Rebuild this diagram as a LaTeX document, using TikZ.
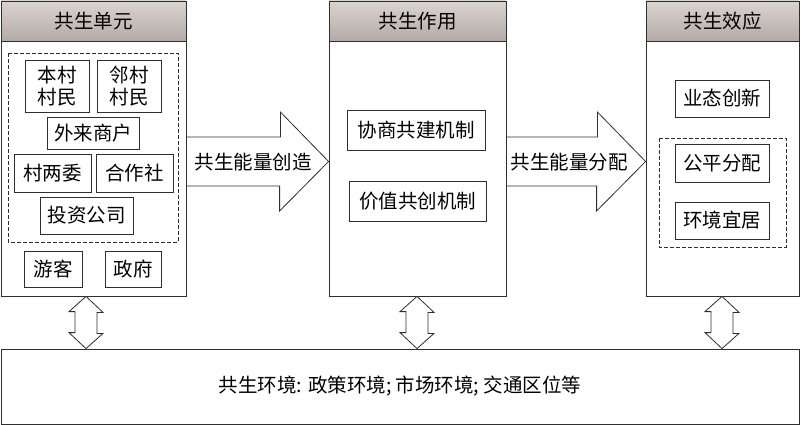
\documentclass[tikz,border=0pt]{standalone}
\usepackage{fontspec}
\setmainfont{Noto Sans CJK SC}
\usetikzlibrary{positioning,calc}
\definecolor{HeadTop}{HTML}{DAD4D1}
\definecolor{HeadBot}{HTML}{B4AAA5}
\definecolor{LineGray}{HTML}{2E2E2E}

\begin{document}
\begin{tikzpicture}[
    x=1pt,y=-1pt,
    every node/.style={font=\fontsize{19.5}{22}\selectfont},
    col/.style={draw=LineGray,line width=0.8pt,fill=white,inner sep=0pt},
    head/.style={draw=LineGray,line width=0.8pt,top color=HeadTop,bottom color=HeadBot,minimum height=40pt,inner sep=0pt},
    item/.style={draw=LineGray,line width=0.8pt,fill=white,inner sep=0pt,align=center},
    group/.style={draw=LineGray,line width=0.7pt,dash pattern=on 4pt off 2pt},
    fat/.style={draw=LineGray,line width=0.8pt,fill=white}
  ]
    \useasboundingbox (0,0) rectangle (800,425);

    % three columns
    \node[col,minimum width=185pt,minimum height=295pt] (unit) at (93.5,148.5) {};
    \node[head,minimum width=185pt,anchor=north] (unithead) at (unit.north) {共生单元};
    \node[col,minimum width=177pt,minimum height=295pt] (role) at (417.5,148.5) {};
    \node[head,minimum width=177pt,anchor=north] (rolehead) at (role.north) {共生作用};
    \node[col,minimum width=153pt,minimum height=295pt] (effect) at (722.5,148.5) {};
    \node[head,minimum width=153pt,anchor=north] (effecthead) at (effect.north) {共生效应};

    % environment
    \node[col,minimum width=798pt,minimum height=75pt] (env) at (400,386.5) {共生环境: 政策环境; 市场环境; 交通区位等};

    % units
    \draw[group] (8,53) rectangle (178,242);
    \node[item,minimum width=64pt,minimum height=52pt] (home) at (57,86) {本村\\村民};
    \node[item,minimum width=64pt,minimum height=52pt] (near) at (129,86) {邻村\\村民};
    \node[item,minimum width=92pt,minimum height=32pt] (merch) at (93,133) {外来商户};
    \node[item,minimum width=77pt,minimum height=38pt] (cmte) at (52.5,173) {村两委};
    \node[item,minimum width=77pt,minimum height=38pt] (coop) at (134.5,173) {合作社};
    \node[item,minimum width=93pt,minimum height=37pt] (invest) at (86.5,215.5) {投资公司};
    \node[item,minimum width=58pt,minimum height=36pt] (tour) at (53,269) {游客};
    \node[item,minimum width=56pt,minimum height=36pt] (gov) at (133,269) {政府};

    % mechanisms
    \node[item,minimum width=138pt,minimum height=40pt] (consult) at (416,130) {协商共建机制};
    \node[item,minimum width=137pt,minimum height=40pt] (cocreate) at (417.5,201) {价值共创机制};

    % effects
    \draw[group] (659,138) rectangle (786,247);
    \node[item,minimum width=94pt,minimum height=37pt] (newbiz) at (722,98.5) {业态创新};
    \node[item,minimum width=94pt,minimum height=38pt] (fair) at (722,163) {公平分配};
    \node[item,minimum width=94pt,minimum height=37pt] (livable) at (722,220.5) {环境宜居};

    % energy flow
    \draw[fat] (unit.east |- 0,137) -- ++(94,0) -- ++(0,-25) -- (role.west |- 0,161.5)
      -- ++(-49,49.5) -- ++(0,-25) -- (unit.east |- 0,186) -- cycle;
    \draw[fat] (role.east |- 0,137) -- ++(91,0) -- ++(0,-25) -- (effect.west |- 0,161.5)
      -- ++(-49,49.5) -- ++(0,-25) -- (role.east |- 0,186) -- cycle;
    \node (create) at (253,162) {共生能量创造};
    \node (share) at (569,162) {共生能量分配};

    % links to environment
    \foreach \nm/\x in {unit/86,role/417,effect/722}
      \draw[fat] (\nm.south -| \x,0) -- ++(17,16) -- ++(-6,0) -- ++(0,21) -- ++(6,0)
        -- (env.north -| \x,0) -- ++(-17,-16) -- ++(6,0) -- ++(0,-21) -- ++(-6,0) -- cycle;
  \end{tikzpicture}
\end{document}
